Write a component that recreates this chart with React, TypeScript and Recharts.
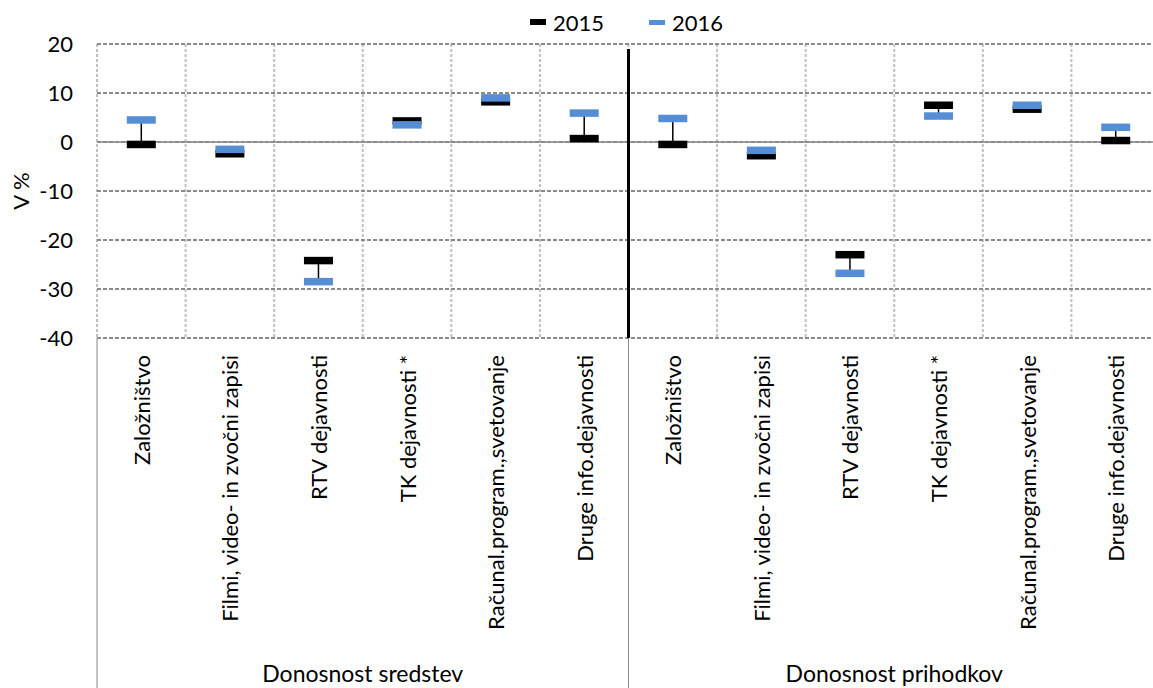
import React from 'react';
import { ComposedChart, Line, XAxis, YAxis, CartesianGrid, ReferenceLine, ErrorBar } from 'recharts';

const CATEGORIES = [
  'Založništvo',
  'Filmi, video- in zvočni zapisi',
  'RTV dejavnosti',
  'TK dejavnosti *',
  'Računal.program.,svetovanje',
  'Druge info.dejavnosti',
  'Založništvo',
  'Filmi, video- in zvočni zapisi',
  'RTV dejavnosti',
  'TK dejavnosti *',
  'Računal.program.,svetovanje',
  'Druge info.dejavnosti',
];
const GROUPS = ['Donosnost sredstev', 'Donosnost prihodkov'];
const V2015 = [-0.5, -2.4, -24.2, 4.3, 8.2, 0.7, -0.5, -2.8, -23.0, 7.5, 6.7, 0.3];
const V2016 = [4.5, -1.5, -28.5, 3.5, 9.0, 5.9, 4.8, -1.7, -26.8, 5.3, 7.5, 3.0];
const Y_TICKS = [20, 10, 0, -10, -20, -30, -40];
const SERIES = [
  { key: 'v15', name: '2015', color: '#000000' },
  { key: 'v16', name: '2016', color: '#558ed5' },
];
const DIVIDER_TOP = 19;

const FONT = 'Lato, "Open Sans", sans-serif';
const N = CATEGORIES.length;
const PER_GROUP = N / GROUPS.length;

const data = CATEGORIES.map((cat, i) => ({
  pos: i + 0.5,
  cat,
  v15: V2015[i],
  v16: V2016[i],
  hl: V2016[i] > V2015[i] ? [0, V2016[i] - V2015[i]] : [V2015[i] - V2016[i], 0],
}));

const CAT_AXIS_H = 300;
const GRP_AXIS_H = 50;

const catTicks = CATEGORIES.map((_, i) => i + 0.5);
const grpTicks = Array.from({ length: N + 1 }, (_, i) => i);

const makeDot = (color: string) => (props: any) => {
  const { cx, cy, index } = props;
  if (cx == null || cy == null) return <g key={`e${index}`} />;
  return <rect key={`d${color}${index}`} x={cx - 14.5} y={cy - 3.75} width={29} height={7.5} fill={color} />;
};

const CatTick = (props: any) => {
  const { x, y, payload } = props;
  const idx = Math.floor(payload.value);
  const ty = y + 17;
  return (
    <text
      x={x}
      y={ty}
      transform={`rotate(-90, ${x}, ${ty})`}
      textAnchor="end"
      dominantBaseline="central"
      fontSize={22}
      fontFamily={FONT}
      fill="#000"
    >
      {CATEGORIES[idx]}
    </text>
  );
};

const GrpTick = (props: any) => {
  const { x, y, payload } = props;
  const v = payload.value;
  const top = y - CAT_AXIS_H;
  if (v % PER_GROUP === 0) {
    return <line x1={x} x2={x} y1={top} y2={y + GRP_AXIS_H} stroke="#8a8a8a" strokeWidth={1} />;
  }
  if (v % PER_GROUP === PER_GROUP / 2) {
    const g = Math.floor(v / PER_GROUP);
    return (
      <text x={x} y={y + 44} textAnchor="middle" fontSize={23} fontFamily={FONT} fill="#000">
        {GROUPS[g]}
      </text>
    );
  }
  return <g />;
};

const YLabel = (props: any) => {
  const vb = props.viewBox || {};
  const cy = (vb.y ?? 44) + (vb.height ?? 294) / 2;
  return (
    <text x={20} y={cy} transform={`rotate(-90, 20, ${cy})`} textAnchor="middle" dominantBaseline="central" fontSize={22} fontFamily={FONT} fill="#000">
      V %
    </text>
  );
};

export default function App() {
  return (
    <div style={{ position: 'absolute', left: 0, top: 0, width: 1153, height: 688, overflow: 'hidden', background: '#fff', fontFamily: FONT }}>
      <div style={{ position: 'absolute', top: 8, left: 530, height: 28, display: 'flex', alignItems: 'center', fontFamily: FONT, fontSize: 22, color: '#000' }}>
        {SERIES.map((s, i) => (
          <div key={s.key} style={{ display: 'flex', alignItems: 'center', marginRight: i === 0 ? 45 : 0 }}>
            <span style={{ display: 'inline-block', width: 16, height: i === 0 ? 6 : 5, background: s.color, marginRight: 7 }} />
            <span>{s.name}</span>
          </div>
        ))}
      </div>
      <ComposedChart width={1165} height={688} data={data} margin={{ top: 44, right: 5, bottom: 0, left: 0 }}>
        <CartesianGrid xAxisId="b" horizontal={false} vertical stroke="#c0c0c0" strokeWidth={2} strokeDasharray="3 2" />
        <CartesianGrid xAxisId="b" horizontal vertical={false} stroke="#8a8a8a" strokeWidth={2} strokeDasharray="4 2" />
        <XAxis
          xAxisId="b"
          dataKey="pos"
          type="number"
          domain={[0, N]}
          ticks={grpTicks}
          interval={0}
          height={GRP_AXIS_H}
          axisLine={false}
          tickLine={false}
          tickSize={0}
          tickMargin={0}
          tick={<GrpTick />}
          allowDataOverflow
        />
        <XAxis
          xAxisId="a"
          dataKey="pos"
          type="number"
          domain={[0, N]}
          ticks={catTicks}
          interval={0}
          height={CAT_AXIS_H}
          axisLine={false}
          tickLine={false}
          tickSize={0}
          tickMargin={0}
          tick={<CatTick />}
          allowDataOverflow
        />
        <YAxis
          domain={[-40, 20]}
          ticks={Y_TICKS}
          interval={0}
          width={97}
          axisLine={false}
          tickLine={false}
          tickSize={0}
          tickMargin={24}
          tick={{ fontSize: 22, fill: '#000', fontFamily: FONT }}
          allowDataOverflow
          label={<YLabel />}
        />
        <ReferenceLine xAxisId="a" y={0} stroke="#8a8a8a" strokeWidth={1.5} />
        <ReferenceLine
          xAxisId="a"
          segment={[{ x: PER_GROUP, y: DIVIDER_TOP }, { x: PER_GROUP, y: -40 }]}
          stroke="#000"
          strokeWidth={3}
        />
        <Line
          xAxisId="a"
          dataKey="v15"
          name="2015"
          stroke="none"
          isAnimationActive={false}
          dot={makeDot('#000000')}
          activeDot={false}
          legendType="none"
        >
          <ErrorBar dataKey="hl" width={0} stroke="#000" strokeWidth={1.5} direction="y" />
        </Line>
        <Line
          xAxisId="a"
          dataKey="v16"
          name="2016"
          stroke="none"
          isAnimationActive={false}
          dot={makeDot('#558ed5')}
          activeDot={false}
          legendType="none"
        />
      </ComposedChart>
    </div>
  );
}
